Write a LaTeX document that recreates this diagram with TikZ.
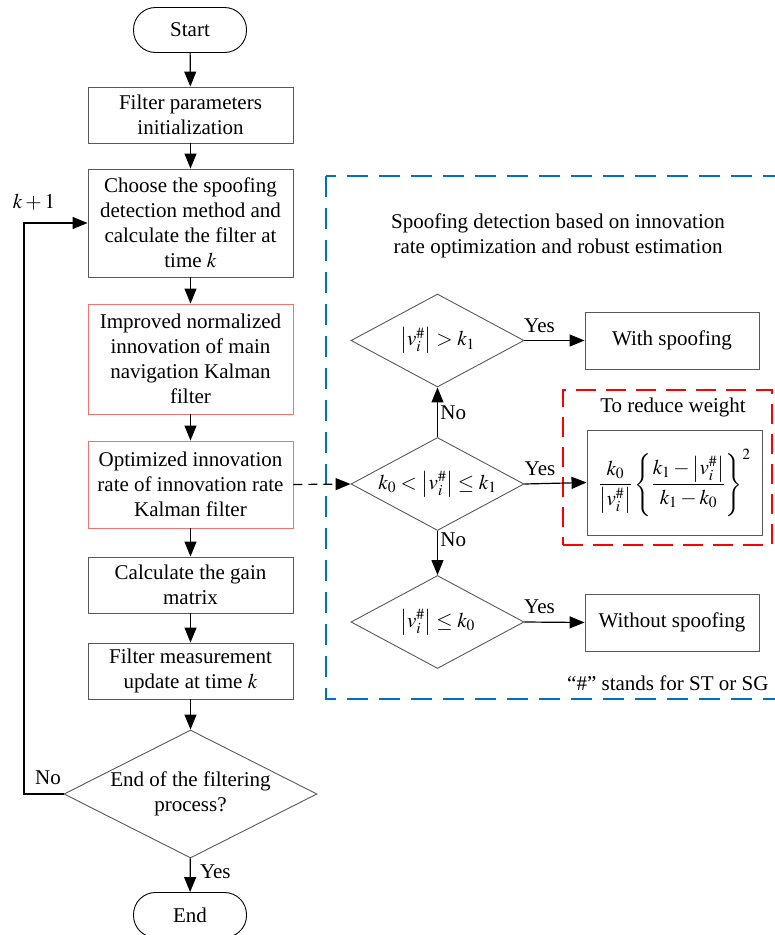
\documentclass[tikz,border=0pt]{standalone}
\usepackage{amsmath}
\usepackage{mathptmx}
\usepackage[no-math]{fontspec}
\setmainfont{Liberation Serif}
\usetikzlibrary{arrows.meta, positioning, shapes.geometric}
\definecolor{cline}{HTML}{595959}
\definecolor{cred}{HTML}{F27272}
\definecolor{cblue}{HTML}{0070C0}
\definecolor{cdash}{HTML}{FF0000}
\newcommand{\vnorm}{\left|v_i^{\#}\right|}
\tikzset{
  pbox/.style={draw=cline, line width=0.9pt, minimum width=205pt, align=center, inner sep=2pt},
  rbox/.style={pbox, draw=cred},
  tbox/.style={draw=black, line width=0.9pt, rounded corners=22pt,
               minimum width=113pt, minimum height=45pt},
  dbox/.style={diamond, draw=cline, line width=0.9pt, inner sep=0pt, align=center},
  arr/.style={-{Triangle[length=15pt,width=12pt]}, line width=1.2pt},
  darr/.style={arr, dash pattern=on 9pt off 6pt},
  bluebox/.style={draw=cblue, line width=2.6pt, dash pattern=on 21pt off 11pt},
  redbox/.style={draw=cdash, line width=2.6pt, dash pattern=on 20pt off 10pt},
}

\begin{document}
\begin{tikzpicture}[x=1pt, y=-1pt, every node/.style={font=\fontsize{21}{25}\selectfont}]
  \useasboundingbox (0,0) rectangle (775,935);
  % blue frame and its texts
  \draw[bluebox] (326,176) rectangle (800,699);
  \node[align=center] (title) at (558,236) {Spoofing detection based on innovation\\rate optimization and robust estimation};
  \node[anchor=east] (note) at (772,683) {“\#” stands for ST or SG};

  % main flow
  \node[tbox] (start) at (190,30) {Start};
  \node[pbox, minimum height=56pt] (init) at (190.5,115) {Filter parameters\\initialization};
  \node[pbox, minimum height=108pt] (choose) at (190.5,223)
    {Choose the spoofing\\detection method and\\calculate the filter at\\time $k$};
  \node[rbox, minimum height=110pt] (improved) at (190.5,359)
    {Improved normalized\\innovation of main\\navigation Kalman\\filter};
  \node[rbox, minimum height=87pt] (optim) at (190.5,484.5)
    {Optimized innovation\\rate of innovation rate\\Kalman filter};
  \node[pbox, minimum height=56pt] (gain) at (190.5,585) {Calculate the gain\\matrix};
  \node[pbox, minimum height=56pt] (update) at (190.5,671) {Filter measurement\\update at time $k$};
  \node[dbox, aspect=1.98, minimum width=253pt, minimum height=128pt] (endq) at (190.5,794)
    {End of the filtering\\process?};
  \node[tbox] (end) at (190,915) {End};

  \draw[arr] (start) -- (init);
  \draw[arr] (init) -- (choose);
  \draw[arr] (choose) -- (improved);
  \draw[arr] (improved) -- (optim);
  \draw[arr] (optim) -- (gain);
  \draw[arr] (gain) -- (update);
  \draw[arr] (update) -- (endq);
  \draw[arr] (endq) -- (end) node[pos=0.4, right=6pt] (yes0) {Yes};
  \coordinate (loop) at (24,500);
  \draw[arr] (endq.west) -| (loop) |- (choose.west);
  \node (no0) at (48,778) {No};
  \node (kone) at (34,202) {$k+1$};

  % detection part
  \node[dbox, minimum width=173pt, minimum height=93pt] (dhigh) at (437.5,340.5)
    {\makebox[0pt]{$\vnorm > k_1$}};
  \node[dbox, minimum width=173pt, minimum height=93pt] (dmid) at (437.5,484)
    {\makebox[0pt]{$k_0 < \vnorm \le k_1$}};
  \node[dbox, minimum width=173pt, minimum height=93pt] (dlow) at (437.5,622)
    {\makebox[0pt]{$\vnorm \le k_0$}};
  \node[pbox, minimum width=174pt, minimum height=57pt] (withsp) at (672,340.5) {With spoofing};
  \node[pbox, minimum width=174pt, minimum height=57pt] (withoutsp) at (672,622.5) {Without spoofing};
  \node[redbox, minimum width=209pt, minimum height=155pt] (wframe) at (667.5,467.5) {};
  \node (wtitle) at (673,407) {To reduce weight};
  \node[pbox, minimum width=175pt, minimum height=105pt] (weight) at (674.5,482.5)
    {$\dfrac{k_0}{\vnorm}\left\{\dfrac{k_1-\vnorm}{k_1-k_0}\right\}^2$};

  \draw[darr] (optim.east) -- (dmid.west);
  \draw[arr] (dmid.north) -- (dhigh.south) node[midway, right=-1pt] (no1) {No};
  \draw[arr] (dmid.south) -- (dlow.north) node[pos=0.2, right=-1pt] (no2) {No};
  \draw[arr] (dhigh.east) -- (withsp.west) node[pos=0.25, above=4pt] (yes1) {Yes};
  \draw[arr] (dmid.east) -- (weight.west) node[pos=0.25, above=4pt] (yes2) {Yes};
  \draw[arr] (dlow.east) -- (withoutsp.west) node[pos=0.25, above=4pt] (yes3) {Yes};
\end{tikzpicture}
\end{document}
